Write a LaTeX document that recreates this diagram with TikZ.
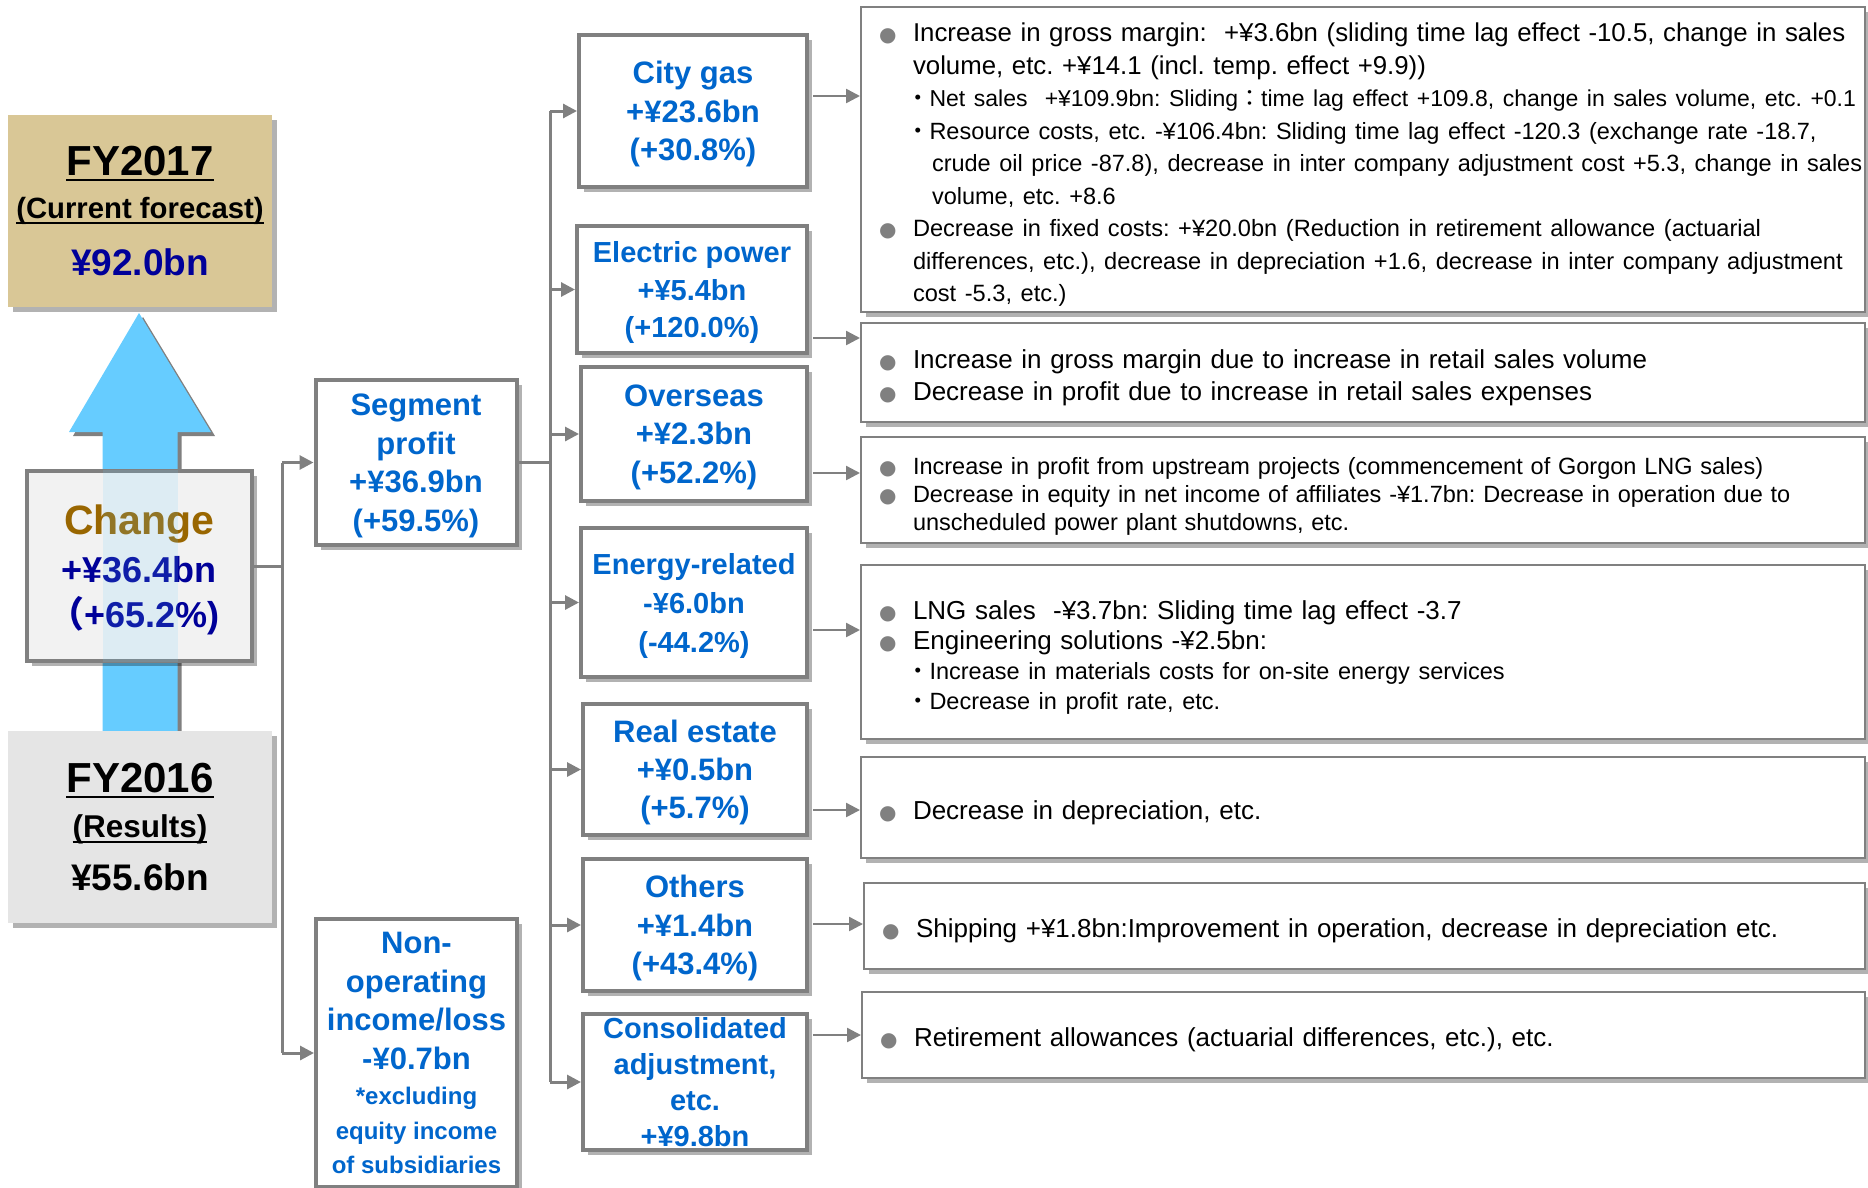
\documentclass[tikz,border=0pt]{standalone}
\usepackage{fontspec}
\setmainfont{Liberation Sans}
\newfontfamily\cjk{Noto Sans CJK JP}
\newfontfamily\symb{DejaVu Sans}
\usepackage{tikz}
\usetikzlibrary{arrows.meta,shadows}
\usetikzlibrary{positioning}

\definecolor{linegray}{HTML}{808080}
\definecolor{valblue}{HTML}{0066CC}
\definecolor{navyblue}{HTML}{000099}
\definecolor{tanfill}{HTML}{D9C796}
\definecolor{skyblue}{HTML}{66CCFF}
\definecolor{changebrown}{HTML}{996600}

\newcommand{\fs}[2]{\fontsize{#1}{#2}\selectfont}
\newsavebox{\ulinebox}
\newcommand{\ulbar}[1]{\sbox{\ulinebox}{#1}\rlap{\usebox{\ulinebox}}\raisebox{-6pt}{\rule{\wd\ulinebox}{2.5pt}}}
\newcommand{\notebul}[1]{\makebox[42pt][l]{\hspace{8pt}\textcolor{linegray}{\symb\fs{20}{20}●}}\mbox{#1}}
\newcommand{\notecont}[1]{\hspace*{42pt}\mbox{#1}}
\newcommand{\notesub}[1]{\hspace*{35pt}\mbox{\fs{23.5}{32}{\cjk ・}#1}}
\newcommand{\notesubcont}[1]{\hspace*{61pt}\mbox{\fs{23.5}{32}#1}}

\begin{document}
\frenchspacing
\begin{tikzpicture}[x=1pt,y=-1pt,
	shadowed/.style={drop shadow={shadow xshift=5pt,shadow yshift=-5pt,opacity=0.3,fill=black}},
	segbox/.style={draw=linegray,line width=4pt,fill=white,text=valblue,font=\bfseries\fs{31}{38.5},align=center,inner sep=0pt,shadowed},
	flatdepth/.style={text depth=0pt},
	sumbox/.style={minimum width=264pt,minimum height=192pt,inner sep=0pt,align=center,font=\bfseries\fs{37}{46},shadowed},
	notebox/.style={draw=linegray,line width=2pt,fill=white,anchor=north west,text width=984pt,inner xsep=10pt,inner ysep=0pt,
		minimum width=1004pt,align=left,font=\fs{26}{32.5},execute at begin node={\rule{0pt}{29pt}},shadowed},
	link/.style={draw=linegray,line width=3pt},
	outlink/.style={draw=linegray,line width=2.5pt},
	arrowed/.style={-{Triangle[length=14pt,width=14pt]}}]

	\useasboundingbox (0,0) rectangle (1868,1187);

	% big arrow behind the summary boxes
	\fill[skyblue,drop shadow={shadow xshift=4pt,shadow yshift=-4pt,fill=linegray,opacity=1}]
		(139,313) -- (211,432) -- (177.5,432) -- (177.5,731) -- (102.5,731) -- (102.5,432) -- (69,432) -- cycle;

	\node[sumbox,fill=tanfill] (fy2017) at (140,211)
		{{\fs{42}{46}\ulbar{FY2017}}\\[-3pt]{\fs{29.3}{36}\ulbar{(Current forecast)}}\\[11pt]{\color{navyblue}¥92.0bn}};
	\node[sumbox,fill=black!10] (fy2016) at (140,827)
		{{\fs{42}{46}\ulbar{FY2016}}\\[-1pt]{\fs{31.5}{36}\ulbar{(Results)}}\\[7pt]¥55.6bn};
	\node[draw=linegray,line width=4pt,fill=black!5,minimum width=224.5pt,minimum height=190pt,inner sep=0pt,
		align=center,font=\bfseries\fs{36}{45},text=navyblue,flatdepth,shadowed] (change) at (139.25,566)
		{{\fs{41}{48}\color{changebrown}Change}\\[3pt]+¥36.4bn\\\hspace*{-10pt}{\cjk （}+65.2\%)};
	\fill[skyblue,opacity=0.15] (102.5,470) rectangle (177.5,662);

	\node[segbox,flatdepth,minimum width=201pt,minimum height=165pt] (segment) at (416,462.5)
		{Segment\\profit\\+¥36.9bn\\(+59.5\%)};
	\node[segbox,minimum width=201pt,minimum height=268pt] (nonop) at (416.5,1053)
		{Non-\\operating\\income/loss\\-¥0.7bn\\[-3pt]{\fs{24}{34}*excluding}\\[-4pt]{\fs{24}{34}equity income}\\[-4pt]{\fs{24}{34}of subsidiaries}};

	\node[segbox,flatdepth,minimum width=228pt,minimum height=152.5pt] (citygas) at (693,111) {City gas\\+¥23.6bn\\(+30.8\%)};
	\node[segbox,flatdepth,minimum width=230pt,minimum height=127pt,font=\bfseries\fs{29}{37.5}] (elecpower) at (692,289.5) {Electric power\\+¥5.4bn\\(+120.0\%)};
	\node[segbox,flatdepth,minimum width=226pt,minimum height=133.5pt] (overseas) at (694,434) {Overseas\\+¥2.3bn\\(+52.2\%)};
	\node[segbox,flatdepth,minimum width=226pt,minimum height=149pt,font=\bfseries\fs{29}{39}] (energy) at (694,602.5) {Energy-related\\-¥6.0bn\\(-44.2\%)};
	\node[segbox,flatdepth,minimum width=224pt,minimum height=131pt,font=\bfseries\fs{31}{38}] (realestate) at (695,769.5) {Real estate\\+¥0.5bn\\(+5.7\%)};
	\node[segbox,flatdepth,minimum width=224pt,minimum height=132pt] (others) at (695,925) {Others\\+¥1.4bn\\(+43.4\%)};
	\node[segbox,minimum width=224pt,minimum height=136pt,font=\bfseries\fs{29}{36}] (consol) at (695,1082) {Consolidated\\adjustment,\\etc.\\+¥9.8bn};

	\node[notebox,minimum height=305pt,font=\fs{25.8}{32.5}] (note1) at (860,6) {%
		\notebul{Increase in gross margin:\ \ +¥3.6bn (sliding time lag effect -10.5, change in sales}\\
		\notecont{volume, etc. +¥14.1 (incl. temp. effect +9.9))}\\
		\notesub{\fs{23}{32}Net sales\ \ +¥109.9bn: Sliding{\cjk ：}time lag effect +109.8, change in sales volume, etc. +0.1}\\
		\notesub{Resource costs, etc. -¥106.4bn: Sliding time lag effect -120.3 (exchange rate -18.7,}\\
		\notesubcont{crude oil price -87.8), decrease in inter company adjustment cost +5.3, change in sales}\\
		\notesubcont{volume, etc. +8.6}\\
		\notebul{\fs{23.6}{32.5}Decrease in fixed costs: +¥20.0bn (Reduction in retirement allowance (actuarial}\\
		\notecont{\fs{23.6}{32.5}differences, etc.), decrease in depreciation +1.6, decrease in inter company adjustment}\\
		\notecont{\fs{23.6}{32.5}cost -5.3, etc.)}};
	\node[notebox,minimum height=99pt,font=\fs{26}{32}] (note2) at (860,322) {%
		\notebul{Increase in gross margin due to increase in retail sales volume}\\
		\notebul{Decrease in profit due to increase in retail sales expenses}};
	\node[notebox,minimum height=106pt,font=\fs{23.5}{28}] (note3) at (860,436) {%
		\notebul{Increase in profit from upstream projects (commencement of Gorgon LNG sales)}\\
		\notebul{Decrease in equity in net income of affiliates -¥1.7bn: Decrease in operation due to}\\
		\notecont{unscheduled power plant shutdowns, etc.}};
	\node[notebox,minimum height=174pt,font=\fs{26}{30}] (note4) at (860,564) {%
		\notebul{LNG sales\ \ -¥3.7bn: Sliding time lag effect -3.7}\\
		\notebul{Engineering solutions -¥2.5bn:}\\
		\notesub{Increase in materials costs for on-site energy services}\\
		\notesub{Decrease in profit rate, etc.}};
	\node[notebox,minimum height=101pt] (note5) at (860,756) {\notebul{Decrease in depreciation, etc.}};
	\node[notebox,minimum height=86pt,minimum width=1001pt,text width=981pt] (note6) at (863,882) {\notebul{Shipping +¥1.8bn:Improvement in operation, decrease in depreciation etc.}};
	\node[notebox,minimum height=86pt,minimum width=1003pt,text width=983pt] (note7) at (861,991) {\notebul{Retirement allowances (actuarial differences, etc.), etc.}};

	% change -> segment profit / non-operating
	\draw[link] (change.east) -- ++(28.5,0) coordinate (leftbus);
	\draw[link] (leftbus |- segment.west) -- (leftbus |- nonop.west);
	\draw[link,arrowed] (leftbus |- segment.west) -- (segment.west);
	\draw[link,arrowed] (leftbus |- nonop.west) -- (nonop.west);

	% segment profit -> segments
	\draw[link] (segment.east) -- ++(31.5,0) coordinate (rightbus);
	\draw[link] (rightbus |- citygas.west) -- (rightbus |- consol.west);
	\foreach \seg in {citygas,elecpower,overseas,energy,realestate,others,consol}
		\draw[link,arrowed] (rightbus |- \seg.west) -- (\seg.west);

	% segments -> notes
	\foreach \seg/\note/\dy in {citygas/note1/15pt,elecpower/note2/-48.5pt,overseas/note3/-39pt,energy/note4/-27.5pt,
		realestate/note5/-40.5pt,others/note6/1pt,consol/note7/47pt}
		\draw[outlink,arrowed] ([shift={(4pt,\dy)}]\seg.east) coordinate (from) -- (from -| \note.west);
\end{tikzpicture}
\end{document}
